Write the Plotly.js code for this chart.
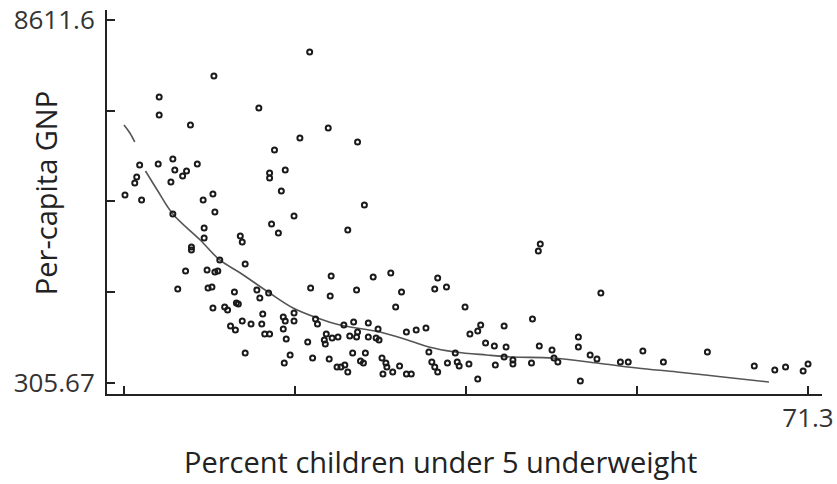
<!DOCTYPE html>
<html>
<head>
<meta charset="utf-8">
<script src="https://cdn.plot.ly/plotly-3.0.1.min.js"></script>
<style>
  html, body { margin: 0; padding: 0; background: #ffffff; }
  #chart { width: 837px; height: 484px; }
</style>
</head>
<body>
<div id="chart"></div>
<script>
// Percent children under 5 underweight (x) vs per-capita GNP (y)
const underweight = [
  20.3, 10.5, 4.9, 4.9, 8.1, 15.1, 22.2, 19.3, 25.2, 16.7,
  2.9, 4.8, 6.3, 6.5, 7.7, 7.3, 8.8, 2.6, 2.4, 6.1,
  1.4, 3.1, 16.2, 16.2, 17.8, 17.4, 9.4, 10.4, 10.6, 6.3,
  25.9, 18.7, 24.2, 9.5, 9.5, 13.2, 13.4, 16.4, 17.1, 8.2,
  8.2, 11.1, 13.7, 7.6, 9.8, 10.6, 10.9, 6.8, 9.9, 10.3,
  12.6, 10.4, 11.6, 11.9, 12.8, 13.0, 12.2, 12.7, 13.4, 14.3,
  13.7, 22.5, 26.8, 20.4, 25.1, 22.4, 14.9, 15.2, 16.1, 15.5,
  17.6, 17.8, 17.6, 18.7, 18.7, 15.4, 15.7, 16.2, 17.9, 20.9,
  21.1, 20.1, 18.3, 17.7, 20.6, 22.3, 23.8, 24.8, 26.3, 27.3,
  22.0, 21.8, 21.9, 22.6, 23.2, 24.4, 25.1, 25.2, 26.3, 27.1,
  27.4, 24.7, 26.0, 25.5, 25.8, 23.1, 23.9, 24.2, 23.5, 28.6,
  29.7, 29.1, 33.4, 33.1, 34.3, 36.2, 30.2, 31.2, 32.2, 36.7,
  37.5, 37.8, 40.2, 38.3, 39.2, 40.4, 32.5, 35.2, 27.7, 28.1,
  28.2, 27.8, 28.8, 29.5, 30.2, 30.7, 32.8, 33.1, 33.4, 34.4,
  35.4, 35.6, 36.6, 37.5, 39.3, 40.2, 41.1, 41.1, 43.9, 43.7,
  50.1, 43.1, 43.0, 43.8, 45.1, 45.3, 45.7, 47.8, 47.8, 49.0,
  49.7, 48.0, 52.1, 52.9, 54.4, 56.5, 61.0, 65.8, 67.9, 69.0,
  70.8, 71.3
];
const gnp = [
  7879, 7329, 6849, 6436, 6207, 6597, 6139, 5910, 5818, 5635,
  5291, 5314, 5429, 5177, 5154, 5039, 5314, 5017, 4879, 4902,
  4604, 4490, 5108, 4994, 5177, 4696, 4490, 4627, 4215, 4169,
  4375, 4123, 3803, 3849, 3620, 3665, 3528, 3940, 3734, 3414,
  3345, 3116, 3024, 2864, 2887, 2841, 2864, 2452, 2475, 2498,
  2383, 2017, 2040, 1971, 2131, 2110, 1604, 1513, 1719, 1650,
  986, 2749, 2727, 2475, 2429, 2291, 2429, 2246, 2360, 1879,
  1811, 1719, 1536, 1902, 1719, 1650, 1421, 1421, 1307, 1765,
  1650, 1238, 940, 757, 872, 849, 1627, 1696, 1673, 1536,
  1421, 1284, 1192, 1330, 1353, 1375, 1353, 1467, 1353, 1330,
  1284, 986, 986, 803, 757, 666, 711, 551, 666, 2818,
  2383, 2040, 2704, 2452, 2498, 2040, 1467, 1513, 1559, 1421,
  1490, 1627, 1604, 1215, 1146, 1124, 1009, 986, 872, 757,
  666, 505, 551, 688, 505, 505, 780, 666, 551, 757,
  780, 688, 734, 391, 711, 894, 826, 734, 3482, 3322,
  2360, 1765, 757, 1146, 1055, 872, 780, 1353, 1124, 940,
  849, 345, 780, 780, 1032, 780, 1009, 688, 597, 666,
  574, 734
];

// Smoothed fit (a short leading piece, a gap, then the main curve)
const fitX = [1.3, 1.9, 2.4, null, 3.5, 4.7, 6.3, 9.1, 11.1, 13.2, 16.2, 18.6, 21.1, 23.4,
              27.5, 30.6, 32.5, 35.2, 38.4, 41.1, 45.2, 49.7, 53.8, 57.9, 62.6, 67.3];
const fitY = [6207, 6024, 5818, null, 5154, 4719, 4169, 3574, 3116, 2818, 2360, 2017, 1788, 1627,
              1467, 1261, 1124, 1009, 940, 894, 872, 757, 643, 551, 437, 322];

const xTickVals = [1.3, 18.8, 36.3, 53.8, 71.3];
const xTickText = ['', '', '', '', '71.3'];
const yTickVals = [305.67, 2382.15, 4458.63, 6535.12, 8611.6];
const yTickText = ['305.67', '', '', '', '8611.6'];

const xTitle = 'Percent children under 5 underweight';
const yTitle = 'Per-capita GNP';

const FONT = '"Open Sans", "DejaVu Sans", sans-serif';

const traces = [
  {
    x: fitX, y: fitY, type: 'scatter', mode: 'lines',
    line: { color: '#555555', width: 1.6, shape: 'spline', smoothing: 1.0 },
    connectgaps: false, hoverinfo: 'skip'
  },
  {
    x: underweight, y: gnp, type: 'scatter', mode: 'markers',
    marker: { symbol: 'circle-open', size: 5, color: '#1a1a1a', line: { width: 2, color: '#1a1a1a' } }
  }
];

const layout = {
  width: 837, height: 484,
  margin: { l: 107, r: 15, t: 10, b: 90 },
  paper_bgcolor: '#ffffff', plot_bgcolor: '#ffffff',
  showlegend: false,
  font: { family: FONT, color: '#333333' },
  xaxis: {
    range: [-0.44, 72.73],
    tickmode: 'array', tickvals: xTickVals, ticktext: xTickText,
    ticks: 'inside', ticklen: 8, tickwidth: 2, tickcolor: '#222222',
    showline: true, linewidth: 2, linecolor: '#222222',
    showgrid: false, zeroline: false,
    tickfont: { family: FONT, size: 26, color: '#333333' },
    ticklabelstandoff: 0
  },
  yaxis: {
    range: [46.9, 8840.5],
    tickmode: 'array', tickvals: yTickVals, ticktext: yTickText,
    ticks: 'inside', ticklen: 8, tickwidth: 2, tickcolor: '#222222',
    showline: true, linewidth: 2, linecolor: '#222222',
    showgrid: false, zeroline: false,
    tickfont: { family: FONT, size: 26, color: '#333333' },
    ticklabelstandoff: 5
  },
  annotations: [
    {
      text: xTitle, xref: 'paper', yref: 'paper',
      x: 0.467, y: -0.1745, xanchor: 'center', yanchor: 'middle',
      showarrow: false, font: { family: FONT, size: 29, color: '#222222' }
    },
    {
      text: yTitle, xref: 'paper', yref: 'paper',
      x: -0.0867, y: 0.523, xanchor: 'center', yanchor: 'middle', textangle: -90,
      showarrow: false, font: { family: FONT, size: 29, color: '#222222' }
    }
  ]
};

Plotly.newPlot('chart', traces, layout, { displayModeBar: false, staticPlot: true });
</script>
</body>
</html>
